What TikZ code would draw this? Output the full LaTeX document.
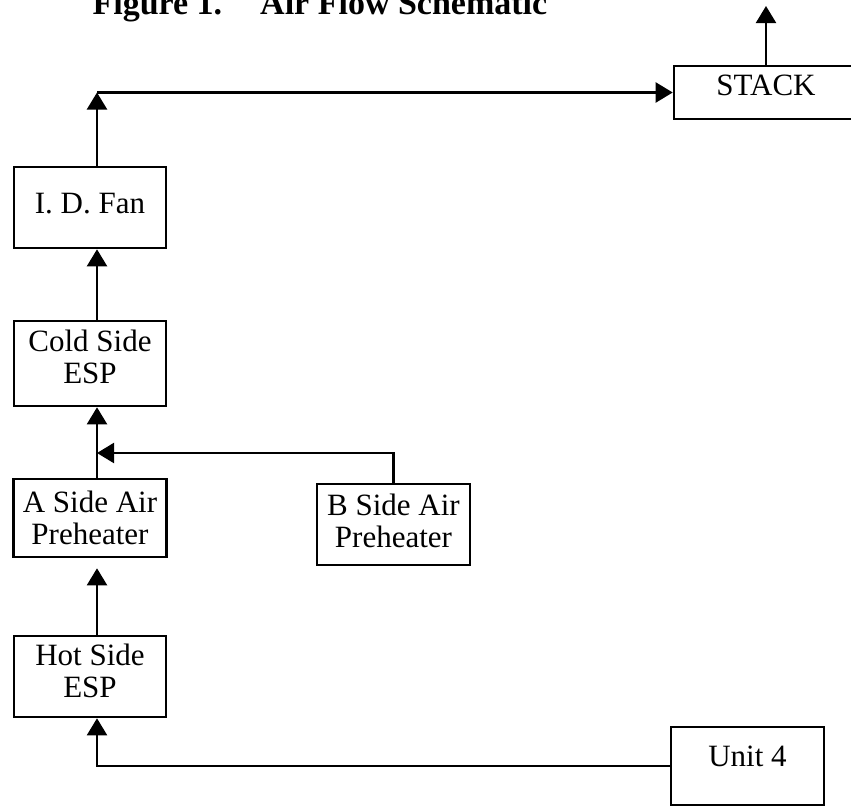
\documentclass[tikz,border=0pt]{standalone}
\usepackage{fontspec}
\setmainfont{Liberation Serif}
\usetikzlibrary{arrows.meta}
\tikzset{
  box/.style={draw, line width=2.6pt, inner sep=0pt, minimum width=152pt,
    font=\fontsize{31}{32}\selectfont, anchor=base},
  conn/.style={line width=2.2pt, -{Triangle[width=20pt,length=17pt]}},
}
\newcommand{\twolines}[2]{\begin{tabular}[t]{@{}c@{}}#1\\#2\end{tabular}}
\begin{document}
\begin{tikzpicture}[x=1pt,y=-1pt]
\useasboundingbox (0,0) rectangle (851,806);
\fill[white] (0,0) rectangle (851,806);

\node[anchor=base west, font=\fontsize{34}{40}\selectfont\bfseries] (title) at (89,14)
  {Figure 1.\hspace{38pt}Air Flow Schematic};

\node[box, minimum width=184pt, text height=29pt, text depth=24pt] (stack) at (766,95) {STACK};
\node[box, text height=46pt, text depth=35pt] (idfan) at (90,213) {I. D. Fan};
\node[box, text height=30pt, text depth=55pt] (cold) at (90,351) {\twolines{Cold Side}{ESP}};
\node[box, minimum width=153pt, text height=33pt, text depth=45pt] (aside) at (90,512) {\twolines{A Side Air}{Preheater}};
\node[box, minimum width=153pt, text height=31pt, text depth=50pt] (bside) at (393.5,515) {\twolines{B Side Air}{Preheater}};
\node[box, text height=29pt, text depth=52pt] (hot) at (90,665) {\twolines{Hot Side}{ESP}};
\node[box, minimum width=153pt, text height=39pt, text depth=39pt] (unit4) at (747.5,766) {Unit 4};

\coordinate (jB) at (97,453);
\coordinate (jTop) at (97,92.5);
\coordinate (out) at (766,6);

\draw[conn] (unit4.west) -| ([xshift=7pt]hot.south);
\draw[conn] ([xshift=7pt]hot.north) -- ([xshift=7pt,yshift=-10pt]aside.south);
\draw[conn] ([xshift=7pt]aside.north) -- ([xshift=7pt]cold.south);
\draw[conn] (bside.north) |- (jB);
\draw[conn] ([xshift=7pt]cold.north) -- ([xshift=7pt]idfan.south);
\draw[conn] ([xshift=7pt]idfan.north) -- (jTop);
\draw[conn] (jTop) -- (stack.west);
\draw[conn] (stack.north) -- (out);
\end{tikzpicture}
\end{document}
